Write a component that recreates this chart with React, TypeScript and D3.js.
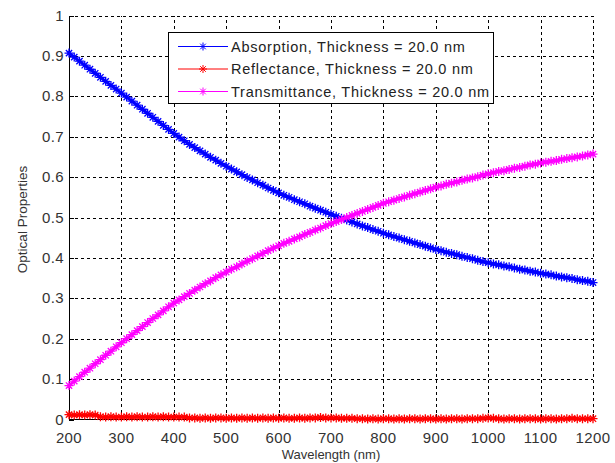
import * as d3 from 'd3';
import React from 'react';

// wavelength grid of the simulation (nm)
const wavelengths = d3.range(200, 1201, 10);

const absorption = [
  0.907, 0.897, 0.887, 0.877, 0.867, 0.857, 0.847, 0.837, 0.827, 0.818,
  0.808, 0.798, 0.788, 0.778, 0.768, 0.758, 0.748, 0.738, 0.728, 0.718,
  0.708, 0.699, 0.690, 0.681, 0.673, 0.665, 0.657, 0.649, 0.642, 0.634,
  0.627, 0.620, 0.613, 0.606, 0.599, 0.593, 0.586, 0.580, 0.573, 0.567,
  0.561, 0.555, 0.550, 0.544, 0.539, 0.534, 0.528, 0.523, 0.518, 0.513,
  0.508, 0.503, 0.498, 0.494, 0.489, 0.484, 0.479, 0.475, 0.470, 0.466,
  0.461, 0.457, 0.453, 0.449, 0.445, 0.441, 0.437, 0.433, 0.429, 0.425,
  0.421, 0.418, 0.414, 0.411, 0.408, 0.404, 0.401, 0.398, 0.394, 0.391,
  0.388, 0.385, 0.383, 0.380, 0.378, 0.375, 0.372, 0.370, 0.367, 0.365,
  0.362, 0.360, 0.358, 0.355, 0.353, 0.351, 0.349, 0.346, 0.344, 0.342,
  0.339,
];

const reflectance = [
  0.012, 0.011, 0.012, 0.011, 0.012, 0.011, 0.007, 0.006, 0.007, 0.006,
  0.006, 0.007, 0.006, 0.007, 0.006, 0.006, 0.007, 0.006, 0.007, 0.006,
  0.006, 0.006, 0.006, 0.004, 0.004, 0.003, 0.004, 0.003, 0.004, 0.004,
  0.003, 0.004, 0.003, 0.004, 0.003, 0.004, 0.003, 0.004, 0.003, 0.004,
  0.003, 0.004, 0.003, 0.003, 0.004, 0.003, 0.004, 0.004, 0.005, 0.004,
  0.004, 0.004, 0.003, 0.003, 0.003, 0.002, 0.002, 0.001, 0.002, 0.001,
  0.002, 0.002, 0.001, 0.002, 0.001, 0.002, 0.002, 0.001, 0.002, 0.002,
  0.001, 0.002, 0.001, 0.002, 0.002, 0.001, 0.002, 0.002, 0.002, 0.003,
  0.004, 0.003, 0.002, 0.001, 0.002, 0.002, 0.001, 0.002, 0.002, 0.002,
  0.001, 0.002, 0.002, 0.001, 0.002, 0.002, 0.003, 0.002, 0.002, 0.002,
  0.002,
];

const transmittance = [
  0.084, 0.095, 0.106, 0.117, 0.127, 0.138, 0.148, 0.159, 0.169, 0.180,
  0.190, 0.200, 0.210, 0.220, 0.230, 0.240, 0.250, 0.259, 0.269, 0.279,
  0.288, 0.296, 0.304, 0.312, 0.320, 0.328, 0.336, 0.343, 0.351, 0.358,
  0.365, 0.372, 0.378, 0.385, 0.392, 0.398, 0.405, 0.411, 0.418, 0.424,
  0.430, 0.436, 0.441, 0.447, 0.452, 0.458, 0.463, 0.469, 0.474, 0.480,
  0.485, 0.490, 0.495, 0.500, 0.505, 0.510, 0.515, 0.520, 0.525, 0.530,
  0.535, 0.539, 0.543, 0.547, 0.551, 0.555, 0.559, 0.563, 0.567, 0.571,
  0.575, 0.578, 0.582, 0.585, 0.588, 0.592, 0.595, 0.598, 0.601, 0.605,
  0.608, 0.611, 0.614, 0.616, 0.619, 0.622, 0.624, 0.627, 0.630, 0.632,
  0.635, 0.637, 0.639, 0.641, 0.644, 0.646, 0.648, 0.650, 0.652, 0.655,
  0.657,
];

const seriesNames = [
  'Absorption, Thickness = 20.0 nm',
  'Reflectance, Thickness = 20.0 nm',
  'Transmittance, Thickness = 20.0 nm',
];
const seriesColors = ['#0000ff', '#ff0000', '#ff00ff'];

const xTicks = [200, 300, 400, 500, 600, 700, 800, 900, 1000, 1100, 1200];
const yTicks = [0, 0.1, 0.2, 0.3, 0.4, 0.5, 0.6, 0.7, 0.8, 0.9, 1];

const width = 615;
const height = 463;
const left = 69;
const right = 593;
const top = 16;
const bottom = 419;
const font = 'Liberation Sans, Arial, sans-serif';

function star(cx: number, cy: number, r: number) {
  const d = r * 0.7;
  return `M${cx - r},${cy}h${2 * r}M${cx},${cy - r}v${2 * r}` +
    `M${cx - d},${cy - d}l${2 * d},${2 * d}M${cx - d},${cy + d}l${2 * d},${-2 * d}`;
}

export default function App() {
  const x = d3.scaleLinear().domain([200, 1200]).range([left, right]);
  const y = d3.scaleLinear().domain([0, 1]).range([bottom + 0.5, top - 0.5]);

  const series = [absorption, reflectance, transmittance];
  const line = d3.line<number>()
    .x((_, i) => x(wavelengths[i]))
    .y(d => y(d));

  const legX = 168, legY = 32, legW = 325, legH = 71;

  return (
    <svg width={width} height={height} style={{ position: 'absolute', left: 0, top: 0, background: '#fff' }}>
      <rect width={width} height={height} fill="#fff" />
      {/* grid */}
      <g stroke="#000" strokeWidth={1} strokeDasharray="3,3" shapeRendering="crispEdges">
        {xTicks.slice(1).map(t => (
          <line key={'gx' + t} x1={Math.round(x(t)) + 0.5} x2={Math.round(x(t)) + 0.5} y1={bottom} y2={top} />
        ))}
        {yTicks.slice(1).map(t => (
          <line key={'gy' + t} x1={left} x2={right} y1={Math.round(y(t)) + 0.5} y2={Math.round(y(t)) + 0.5} />
        ))}
      </g>
      {/* axes */}
      <g stroke="#000" strokeWidth={1} shapeRendering="crispEdges">
        <line x1={left + 0.5} x2={left + 0.5} y1={top} y2={bottom + 1} />
        <line x1={left} x2={right + 1} y1={bottom + 0.5} y2={bottom + 0.5} />
        {xTicks.map(t => (
          <line key={'tx' + t} x1={Math.round(x(t)) + 0.5} x2={Math.round(x(t)) + 0.5} y1={bottom} y2={bottom - 5} />
        ))}
        {yTicks.map(t => (
          <line key={'ty' + t} x1={left} x2={left + 5} y1={Math.round(y(t)) + 0.5} y2={Math.round(y(t)) + 0.5} />
        ))}
      </g>
      {/* series */}
      {series.map((s, k) => (
        <g key={'s' + k} stroke={seriesColors[k]} fill="none">
          <path d={line(s) ?? ''} strokeWidth={3} />
          <path
            strokeWidth={1.3}
            d={s.map((v, i) => star(x(wavelengths[i]), y(v), 4.5)).join('')}
          />
        </g>
      ))}
      {/* tick labels */}
      <g fontFamily={font} fontSize={15} fill="#333" letterSpacing={0.4}>
        {xTicks.map(t => (
          <text key={'lx' + t} x={x(t)} y={bottom + 24} textAnchor="middle">{t}</text>
        ))}
        {yTicks.map(t => (
          <text key={'ly' + t} x={left - 5} y={y(t) + 5} textAnchor="end">{d3.format('~g')(t)}</text>
        ))}
      </g>
      <text x={(left + right) / 2} y={459} textAnchor="middle" fontFamily={font} fontSize={13} fill="#333">
        Wavelength (nm)
      </text>
      <text
        transform={`translate(27,${(top + bottom) / 2 + 2}) rotate(-90)`}
        textAnchor="middle" fontFamily={font} fontSize={13.5} fill="#333"
      >
        Optical Properties
      </text>
      {/* legend */}
      <g>
        <rect x={legX + 0.5} y={legY + 0.5} width={legW} height={legH} fill="#fff" stroke="#000" strokeWidth={1} />
        {seriesNames.map((name, k) => {
          const ry = legY + 14.5 + k * 22.5;
          return (
            <g key={'l' + k}>
              <line x1={legX + 10} x2={legX + 60} y1={ry} y2={ry} stroke={seriesColors[k]} strokeWidth={1} />
              <path d={star(legX + 35, ry, 4)} stroke={seriesColors[k]} fill="none" />
              <text x={legX + 63} y={ry + 5} fontFamily={font} fontSize={14.5} letterSpacing={0.75} fill="#222">{name}</text>
            </g>
          );
        })}
      </g>
    </svg>
  );
}
